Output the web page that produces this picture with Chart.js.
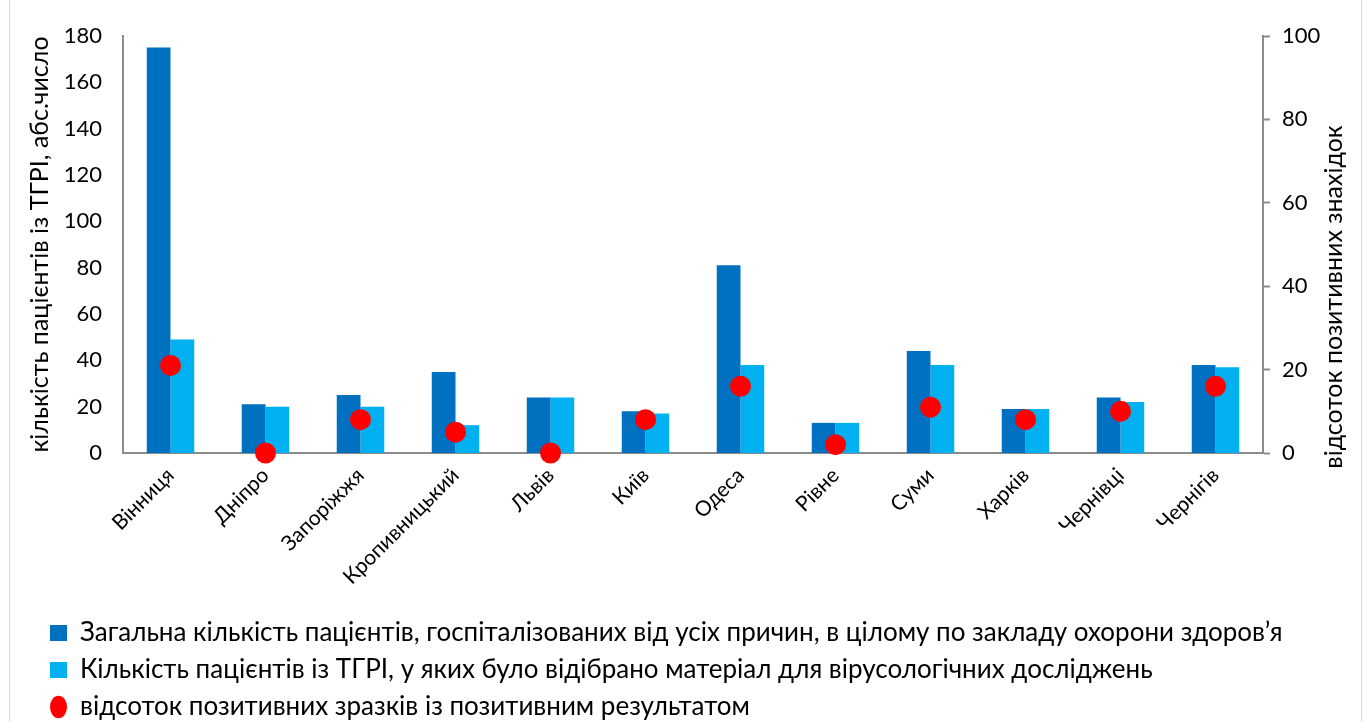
<!DOCTYPE html>
<html>
<head>
<meta charset="utf-8">
<script src="https://cdn.jsdelivr.net/npm/chart.js@4.4.1/dist/chart.umd.min.js"></script>
<style>
  html, body { margin: 0; padding: 0; background: #fff; }
  .wrap { position: relative; width: 1370px; height: 722px; overflow: hidden; }
  .frame { position: absolute; left: 9px; top: -5px; width: 1351px; height: 740px; border: 1px solid #d9d9d9; }
  canvas { position: absolute; left: 0; top: 0; }
</style>
</head>
<body>
<div class="wrap">
  <div class="frame"></div>
  <canvas id="chart" width="1370" height="722"></canvas>
</div>
<script>
const CITIES = [
  "Вінниця", "Дніпро", "Запоріжжя", "Кропивницький", "Львів", "Київ",
  "Одеса", "Рівне", "Суми", "Харків", "Чернівці", "Чернігів"
];
const TOTAL_PATIENTS = [175, 21, 25, 35, 24, 18, 81, 13, 44, 19, 24, 38];
const SAMPLED_PATIENTS = [49, 20, 20, 12, 24, 17, 38, 13, 38, 19, 22, 37];
const POSITIVE_PCT = [21, 0, 8, 5, 0, 8, 16, 2, 11, 8, 10, 16];

const LABEL_TOTAL = "Загальна кількість пацієнтів, госпіталізованих від усіх причин, в цілому по закладу охорони здоров’я";
const LABEL_SAMPLED = "Кількість пацієнтів із ТГРІ, у яких було відібрано матеріал для вірусологічних досліджень";
const LABEL_PCT = "відсоток позитивних зразків із позитивним результатом";
const TITLE_LEFT = "кількість пацієнтів із ТГРІ, абс.число";
const TITLE_RIGHT = "відсоток позитивних знахідок";

const COLORS = {
  dark: "#0070C0",
  light: "#00B0F0",
  red: "#FF0000",
  axis: "#8c8c8c",
  text: "#000000"
};

const FONT = "Lato, 'Open Sans', sans-serif";
Chart.defaults.font.family = FONT;
Chart.defaults.color = COLORS.text;

// right axis title reads bottom-to-top, so draw it by hand
// also nudge the legend to where the original sits
const extras = {
  id: "extras",
  afterLayout(chart) {
    chart.legend.left += 39;
    chart.legend.top += 8;
  },
  afterDraw(chart) {
    const ctx = chart.ctx;
    ctx.save();
    ctx.translate(1334, 297);
    ctx.rotate(-Math.PI / 2);
    ctx.font = "25px " + FONT;
    ctx.fillStyle = COLORS.text;
    ctx.textAlign = "center";
    ctx.textBaseline = "middle";
    ctx.fillText(TITLE_RIGHT, 0, 0);
    ctx.restore();
  }
};

new Chart(document.getElementById("chart"), {
  type: "bar",
  data: {
    labels: CITIES,
    datasets: [
      {
        label: LABEL_TOTAL,
        data: TOTAL_PATIENTS,
        backgroundColor: COLORS.dark,
        yAxisID: "y",
        pointStyle: "rect",
        categoryPercentage: 0.5,
        barPercentage: 1.0,
        order: 1
      },
      {
        label: LABEL_SAMPLED,
        data: SAMPLED_PATIENTS,
        backgroundColor: COLORS.light,
        yAxisID: "y",
        pointStyle: "rect",
        categoryPercentage: 0.5,
        barPercentage: 1.0,
        order: 1
      },
      {
        type: "line",
        label: LABEL_PCT,
        data: POSITIVE_PCT,
        yAxisID: "y1",
        showLine: false,
        pointRadius: 10.5,
        pointHoverRadius: 10.5,
        pointBackgroundColor: COLORS.red,
        pointBorderWidth: 0,
        borderColor: COLORS.red,
        backgroundColor: COLORS.red,
        pointStyle: "circle",
        clip: false,
        order: 0
      }
    ]
  },
  options: {
    responsive: false,
    animation: false,
    layout: { padding: { top: 36, left: 0, right: 0, bottom: 0 } },
    plugins: {
      tooltip: { enabled: false },
      legend: {
        position: "bottom",
        align: "start",
        labels: {
          usePointStyle: true,
          pointStyleWidth: 17,
          boxHeight: 16,
          padding: 11,
          font: { size: 26 },
          color: COLORS.text,
          sort: (a, b) => a.datasetIndex - b.datasetIndex
        }
      }
    },
    scales: {
      x: {
        grid: { display: false, drawTicks: false },
        border: { display: true, color: COLORS.axis, width: 2 },
        ticks: {
          minRotation: 45,
          maxRotation: 45,
          padding: 10,
          font: { size: 21 },
          color: COLORS.text
        },
        afterFit: (s) => { s.height = 148; }
      },
      y: {
        position: "left",
        min: 0,
        max: 180,
        grid: { display: false, drawTicks: false },
        border: { display: true, color: COLORS.axis, width: 2 },
        ticks: { stepSize: 20, padding: 21, font: { size: 22 }, color: COLORS.text },
        title: {
          display: true,
          text: TITLE_LEFT,
          font: { size: 25 },
          color: COLORS.text,
          padding: { top: 25, bottom: 0 }
        },
        afterFit: (s) => { s.width = 123; }
      },
      y1: {
        position: "right",
        min: 0,
        max: 100,
        grid: {
          display: true,
          drawOnChartArea: false,
          drawTicks: true,
          tickLength: 7,
          tickWidth: 2,
          color: COLORS.axis
        },
        border: { display: true, color: COLORS.axis, width: 2 },
        ticks: { stepSize: 20, padding: 12, font: { size: 22 }, color: COLORS.text },
        afterFit: (s) => { s.width = 107; }
      }
    }
  },
  plugins: [extras]
});
</script>
</body>
</html>
